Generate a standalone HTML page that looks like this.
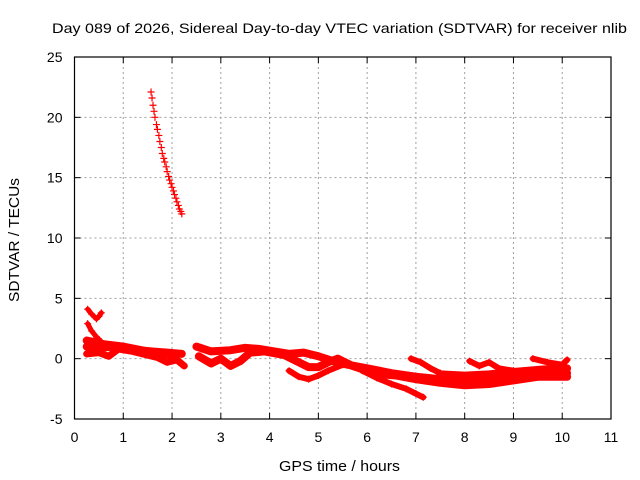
<!DOCTYPE html>
<html><head><meta charset="utf-8"><style>
body{margin:0;background:#fff;}
svg{display:block;font-family:"Liberation Sans",sans-serif;}
</style></head><body>
<svg id="chart" width="640" height="480" viewBox="0 0 640 480">
<rect width="640" height="480" fill="#fff"/>
<text x="52" y="33" font-size="14" textLength="575" lengthAdjust="spacingAndGlyphs" fill="#000">Day 089 of 2026, Sidereal Day-to-day VTEC variation (SDTVAR) for receiver nlib</text>
<g id="grid"></g><g id="marks"></g><g id="axes"></g>
<text x="279" y="471" font-size="15" textLength="121" lengthAdjust="spacingAndGlyphs">GPS time / hours</text>
<text transform="translate(19,302) rotate(-90)" font-size="15" textLength="124" lengthAdjust="spacingAndGlyphs">SDTVAR / TECUs</text>
</svg>
<script>
const xTicks=[0,1,2,3,4,5,6,7,8,9,10,11];
const yTicks=[-5,0,5,10,15,20,25];
const steep=[[1.57,22.1],[1.59,21.6],[1.61,21.0],[1.63,20.5],[1.65,20.0],[1.68,19.4],[1.7,19.0],[1.73,18.5],[1.75,18.0],[1.78,17.5],[1.8,17.0],[1.83,16.6],[1.85,16.3],[1.88,15.9],[1.9,15.5],[1.93,15.1],[1.95,14.8],[1.98,14.5],[2.0,14.2],[2.03,13.9],[2.05,13.6],[2.08,13.3],[2.1,13.0],[2.13,12.7],[2.15,12.4],[2.18,12.2],[2.2,12.0]];
const trackA=[[0.27,4.1],[0.35,3.7],[0.45,3.3],[0.5,3.5],[0.55,3.8]];
const trackB=[[0.27,2.9],[0.35,2.3],[0.45,1.8],[0.55,1.4],[0.65,1.0]];
const trackC=[[0.25,1.0],[0.5,0.9],[0.8,1.0],[1.0,0.9],[1.3,0.7],[1.6,0.6],[1.9,0.5],[2.2,0.4]];
const trackD=[[0.25,0.4],[0.5,0.5],[0.7,0.2],[0.9,0.8],[1.2,0.6],[1.5,0.3],[1.7,0.1],[1.9,-0.3],[2.1,-0.1],[2.25,-0.6]];
const trackE=[[0.25,1.5],[0.6,1.2],[1.0,1.0],[1.5,0.6],[2.0,0.3]];
const trackF=[[2.5,1.0],[2.8,0.6],[3.2,0.7],[3.5,0.9],[3.8,0.8],[4.1,0.6],[4.4,0.4],[4.7,0.5],[5.0,0.2],[5.3,-0.2],[5.6,-0.5],[6.0,-0.8],[6.5,-1.2],[7.0,-1.5],[7.5,-1.7],[8.0,-1.8],[8.5,-1.7],[9.0,-1.4],[9.5,-1.2],[10.1,-1.2]];
const trackG=[[2.55,0.2],[2.8,-0.4],[3.0,0.0],[3.2,-0.6],[3.4,-0.2],[3.6,0.5],[3.9,0.6],[4.3,0.3],[4.6,-0.3],[4.8,-0.7],[5.0,-0.7],[5.2,-0.3],[5.4,0.0],[5.7,-0.6],[6.0,-1.0],[6.3,-1.3],[6.6,-1.4],[7.0,-1.7],[7.5,-2.0],[8.0,-2.2],[8.5,-2.1],[9.0,-1.8],[9.5,-1.5],[10.1,-1.5]];
const trackH=[[4.4,-1.0],[4.6,-1.5],[4.8,-1.7],[5.0,-1.4],[5.2,-1.0],[5.5,-0.5]];
const trackI=[[5.9,-1.0],[6.2,-1.6],[6.5,-2.1],[6.8,-2.5],[7.0,-2.9],[7.15,-3.2]];
const trackJ=[[6.9,0.0],[7.1,-0.3],[7.3,-0.8],[7.5,-1.2]];
const trackK=[[8.1,-0.2],[8.3,-0.6],[8.5,-0.3],[8.7,-0.8],[9.0,-1.0]];
const trackL=[[9.4,0.0],[9.7,-0.3],[10.0,-0.5],[10.1,-0.1]];
const trackM=[[7.5,-1.3],[8.0,-1.4],[8.5,-1.3],[9.0,-1.1],[9.6,-0.9],[10.1,-0.8]];
const X0=74.5,X1=611,Y0=419,Y1=57,xmin=0,xmax=11,ymin=-5,ymax=25;
const sx=v=>X0+(v-xmin)/(xmax-xmin)*(X1-X0);
const sy=v=>Y0-(v-ymin)/(ymax-ymin)*(Y0-Y1);
const NS="http://www.w3.org/2000/svg";
function mk(tag,attrs,parent){const e=document.createElementNS(NS,tag);for(const k in attrs)e.setAttribute(k,attrs[k]);parent.appendChild(e);return e;}
const grid=document.getElementById('grid'),axes=document.getElementById('axes'),marks=document.getElementById('marks');
xTicks.forEach(t=>{
  const x=sx(t);
  if(t>0&&t<11){const g=mk('line',{x1:x,x2:x,y1:Y1,y2:Y0,stroke:'#a0a0a0','stroke-dasharray':'2,3'},grid);
  
  }
  mk('line',{x1:x,x2:x,y1:Y0,y2:Y0-6,stroke:'#000'},axes);
  mk('line',{x1:x,x2:x,y1:Y1,y2:Y1+6,stroke:'#000'},axes);
  const l=mk('text',{x:x,y:Y0+23,'font-size':14,'text-anchor':'middle'},axes);l.textContent=t;
  
  
});
yTicks.forEach(t=>{
  const y=sy(t);
  if(t>-5&&t<25){const g=mk('line',{x1:X0,x2:X1,y1:y,y2:y,stroke:'#a0a0a0','stroke-dasharray':'2,3'},grid);
  
  }
  mk('line',{x1:X0,x2:X0+6,y1:y,y2:y,stroke:'#000'},axes);
  mk('line',{x1:X1,x2:X1-6,y1:y,y2:y,stroke:'#000'},axes);
  const l=mk('text',{x:X0-12,y:y+5,'font-size':14,'text-anchor':'end'},axes);l.textContent=t;
  
  
});
const fr=mk('rect',{x:X0,y:Y1,width:X1-X0,height:Y0-Y1,fill:'none',stroke:'#000','stroke-width':1.2},axes);


function plus(x,y,g){mk('path',{d:`M${x-3.5},${y}h7M${x},${y-3.5}v7`,stroke:'#f00','stroke-width':1.2},g);}
function series(data,name,thick){
  const g=mk('g',{},marks);
  
  
  if(thick){mk('path',{d:'M'+data.map(p=>sx(p[0])+','+sy(p[1])).join('L'),fill:'none',stroke:'#f00','stroke-width':thick,'stroke-linejoin':'round','stroke-linecap':'round'},g);}
  data.forEach(p=>plus(sx(p[0]),sy(p[1]),g));
}
series(steep,'series-steep-arc',0);
series(trackA,'series-track-a',5);
series(trackB,'series-track-b',5);
series(trackC,'series-track-c',8);
series(trackD,'series-track-d',7);
series(trackE,'series-track-e',8);
series(trackF,'series-track-f',8);
series(trackG,'series-track-g',8);
series(trackH,'series-track-h',6);
series(trackI,'series-track-i',6);
series(trackJ,'series-track-j',6);
series(trackK,'series-track-k',6);
series(trackL,'series-track-l',6);
series(trackM,'series-track-m',8);
</script>
</body></html>
